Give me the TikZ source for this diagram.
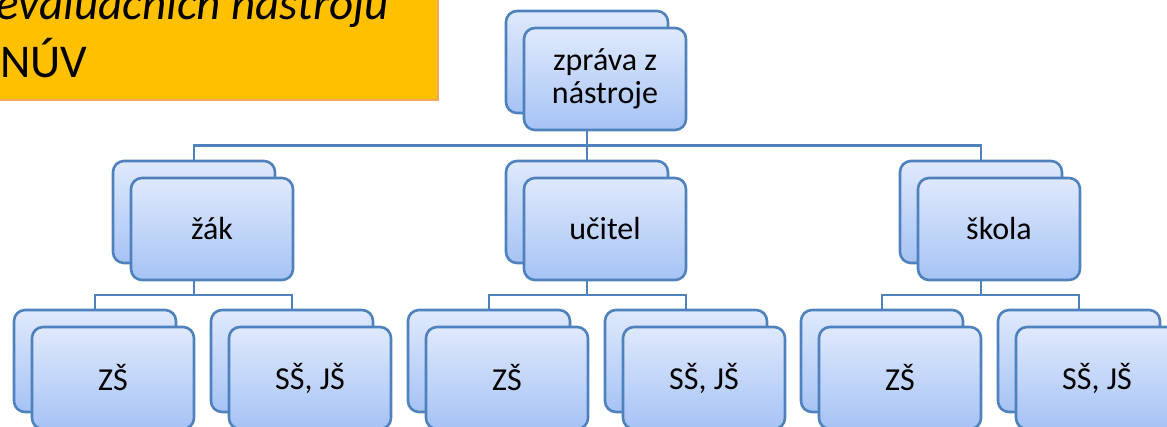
\documentclass[tikz,border=0pt]{standalone}
\usepackage{fontspec}
\setmainfont{Carlito}
\usepackage{xcolor}
\definecolor{boxTop}{HTML}{DFE9FC}
\definecolor{boxBottom}{HTML}{A6C3F5}
\definecolor{boxBorder}{HTML}{4F81BD}
\definecolor{titleFill}{HTML}{FFC000}
\definecolor{titleBorder}{HTML}{F6A55E}
\usetikzlibrary{positioning,calc}
\tikzset{
    card/.style={
        draw=boxBorder,
        top color=boxTop,
        bottom color=boxBottom,
        rectangle,
        rounded corners=11pt,
        align=center,
        minimum height=102pt,
        minimum width=162pt,
        line width=2.6pt,
        font=\fontsize{32}{33}\selectfont
    },
    front/.style={
        card,
        xshift=18pt,
        yshift=-17pt
    },
    link/.style={
        line width=2.4pt,
        color=boxBorder
    },
    titlebox/.style={
        fill=titleFill,
        draw=titleBorder,
        line width=1.5pt
    },
    titletext/.style={
        anchor=base west,
        inner sep=0pt,
        font=\fontsize{47}{56}\selectfont
    }
}

\begin{document}
\begin{tikzpicture}[x=1pt, y=-1pt]
    \useasboundingbox (0,0) rectangle (1167,426);
    \clip (0,0) rectangle (1167,426);

    % title banner (cut off at the page edge)
    \path[titlebox] (-20,-20) rectangle (438,100);
    \node[titletext] (title) at (-4,19) {\itshape evaluačních nástrojů};
    \node[titletext] (titleb) at (0,77) {NÚV};

    % top level
    \node[card] (zpravab) at (587,62) {};
    \node[front] (zprava) at (zpravab) {zpráva z\\nástroje};

    % middle level
    \node[card] (zakb) at (194,212) {};
    \node[front] (zak) at (zakb) {žák};
    \node[card] (ucitelb) at (587,212) {};
    \node[front] (ucitel) at (ucitelb) {učitel};
    \node[card] (skolab) at (981,212) {};
    \node[front] (skola) at (skolab) {škola};

    % leaves
    \node[card] (zakZSb) at (95,361) {};
    \node[front] (zakZS) at (zakZSb) {ZŠ};
    \node[card] (zakSSb) at (292,361) {};
    \node[front] (zakSS) at (zakSSb) {SŠ, JŠ};
    \node[card] (ucitelZSb) at (489,361) {};
    \node[front] (ucitelZS) at (ucitelZSb) {ZŠ};
    \node[card] (ucitelSSb) at (686,361) {};
    \node[front] (ucitelSS) at (ucitelSSb) {SŠ, JŠ};
    \node[card] (skolaZSb) at (882,361) {};
    \node[front] (skolaZS) at (skolaZSb) {ZŠ};
    \node[card] (skolaSSb) at (1079,361) {};
    \node[front] (skolaSS) at (skolaSSb) {SŠ, JŠ};

    % connectors
    \coordinate (bus) at ($(zpravab |- zprava.south)!.5!(ucitelb.north)$);
    \draw[link] (zpravab |- zprava.south) -- (ucitelb.north);
    \draw[link] (zakb.north) |- (skolab.north |- bus) -- (skolab.north);
    \foreach \p in {zak,ucitel,skola} {
        \coordinate (\p bus) at ($(\p b |- \p.south)!.5!(\p b |- \p ZSb.north)$);
        \draw[link] (\p b |- \p.south) -- (\p bus);
        \draw[link] (\p ZSb.north) |- (\p SSb.north |- \p bus) -- (\p SSb.north);
    }
\end{tikzpicture}
\end{document}
